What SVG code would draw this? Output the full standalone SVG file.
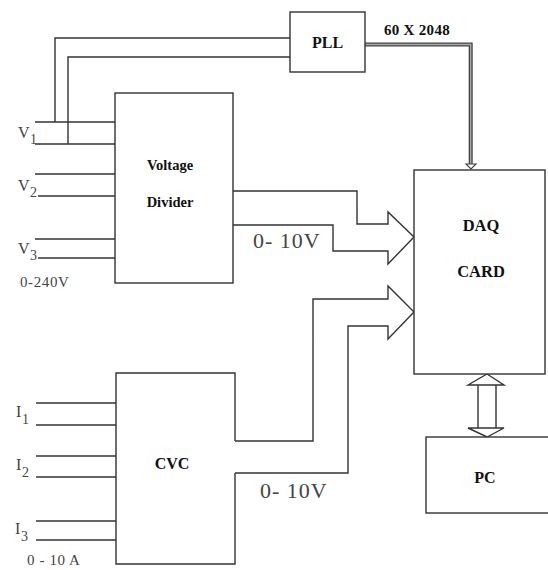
<svg xmlns="http://www.w3.org/2000/svg" width="548" height="570" viewBox="0 0 548 570">
<style>
.box{fill:#fff;stroke:#333;stroke-width:1.4}
.ln{fill:none;stroke:#333;stroke-width:1.4}
.bt{font-family:"Liberation Serif",serif;font-weight:bold;fill:#111;text-anchor:middle}
.lt{font-family:"Liberation Serif",serif;fill:#444}
</style>
<rect width="548" height="570" fill="#fff"/>
<g id="connectors">
<path class="ln" d="M55,122 V38 H290"/>
<path class="ln" d="M68,144 V57 H290"/>
<path d="M365,44.5 H470.7 V164" fill="none" stroke="#444" stroke-width="4"/>
<path d="M365,44.5 H470.7 V164" fill="none" stroke="#aaa" stroke-width="1.4"/>
<path d="M466,164 H476 L471,169 Z" fill="#fff" stroke="#444" stroke-width="1.2"/>
<path class="ln" d="M233,191 H357 V224 H388 V212 L414,237 L388,264 V251 H333 V225 H233"/>
<path class="ln" d="M235,441 H313 V299 H388 V286 L414,312 L388,339 V326 H348 V473 H235"/>
<path class="ln" d="M478,385 V428 M496,385 V428"/>
<path class="ln" d="M468,385 L487,374 L504,385 Z M468,428 L487,437 L504,428 Z"/>
</g>
<g id="voltage-inputs">
<path class="ln" d="M35,122 H115 M35,144 H115 M35,174 H115 M38,196 H115 M35,239 H115 M38,258 H115"/>
<text class="lt" x="18" y="138" font-size="16">V</text><text class="lt" x="30" y="144" font-size="14">1</text>
<text class="lt" x="18" y="191" font-size="16">V</text><text class="lt" x="30" y="197" font-size="14">2</text>
<text class="lt" x="18" y="254" font-size="16">V</text><text class="lt" x="30" y="260" font-size="14">3</text>
<text class="lt" x="20" y="287" font-size="15" letter-spacing="0.6">0-240V</text>
</g>
<g id="current-inputs">
<path class="ln" d="M36,403 H116 M36,425 H116 M36,456 H116 M36,477 H116 M36,521 H116 M36,540 H116"/>
<text class="lt" x="16" y="417" font-size="16">I</text><text class="lt" x="22" y="424" font-size="14">1</text>
<text class="lt" x="16" y="470" font-size="16">I</text><text class="lt" x="22" y="477" font-size="14">2</text>
<text class="lt" x="15" y="534" font-size="16">I</text><text class="lt" x="21" y="541" font-size="14">3</text>
<text class="lt" x="27" y="565" font-size="15" letter-spacing="0.6">0 - 10 A</text>
</g>
<g id="pll">
<rect class="box" x="290" y="12" width="75" height="60"/>
<text class="bt" x="327.5" y="48" font-size="16">PLL</text>
<text class="bt" x="417" y="35" font-size="15" letter-spacing="0.3">60 X 2048</text>
</g>
<g id="voltage-divider">
<rect class="box" x="115" y="93" width="118" height="190"/>
<text class="bt" x="170" y="170" font-size="14.5">Voltage</text>
<text class="bt" x="170" y="207" font-size="14.5">Divider</text>
</g>
<g id="cvc">
<path class="box" d="M235,441 V373 H116 V564 H235 V473"/>
<text class="bt" x="172" y="469" font-size="16">CVC</text>
</g>
<g id="daq">
<rect class="box" x="414" y="170" width="131" height="204"/>
<text class="bt" x="481" y="231" font-size="16.5">DAQ</text>
<text class="bt" x="481" y="277" font-size="16.5">CARD</text>
</g>
<g id="pc">
<rect class="box" x="426" y="437" width="130" height="76"/>
<text class="bt" x="485" y="483" font-size="16">PC</text>
</g>
<g id="labels">
<text class="lt" x="253" y="248" font-size="22" letter-spacing="1">0- 10V</text>
<text class="lt" x="260" y="498" font-size="22" letter-spacing="1">0- 10V</text>
</g>
</svg>
